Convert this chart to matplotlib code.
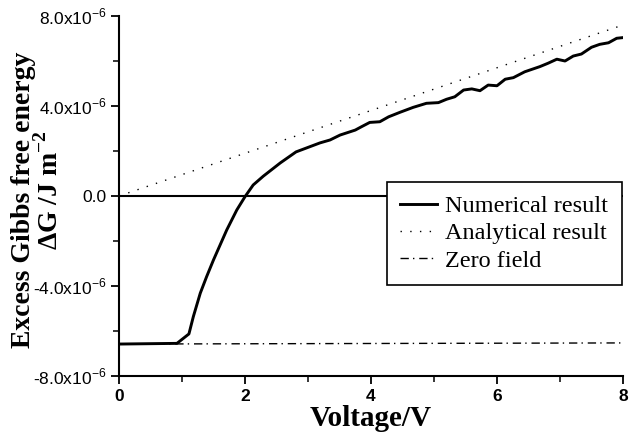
import matplotlib
matplotlib.use("Agg")
import matplotlib.pyplot as plt
from matplotlib.ticker import MultipleLocator, FixedLocator

plt.rcParams['mathtext.fontset'] = 'custom'
plt.rcParams['mathtext.rm'] = 'Liberation Sans'
plt.rcParams['mathtext.bf'] = 'Liberation Serif:bold'

# Voltage (V) and excess Gibbs free energy (units of 1e-6 J m^-2)
voltage_num = [0, 0.92, 1.11, 1.18, 1.29, 1.39, 1.50, 1.71, 1.87, 2.0, 2.13,
               2.29, 2.56, 2.81, 3.19, 3.35, 3.51, 3.75, 3.85, 3.98, 4.14,
               4.28, 4.46, 4.67, 4.88, 5.07, 5.20, 5.33, 5.47, 5.60, 5.73,
               5.86, 6.0, 6.13, 6.26, 6.44, 6.68, 6.81, 6.95, 7.08, 7.21,
               7.34, 7.50, 7.63, 7.77, 7.90, 8.0]
energy_num = [-6.58, -6.55, -6.13, -5.36, -4.32, -3.59, -2.84, -1.51, -0.62,
              -0.03, 0.49, 0.88, 1.47, 1.96, 2.36, 2.49, 2.71, 2.93, 3.08,
              3.27, 3.30, 3.52, 3.72, 3.94, 4.12, 4.15, 4.30, 4.41, 4.71,
              4.76, 4.68, 4.93, 4.90, 5.19, 5.26, 5.52, 5.75, 5.90, 6.08,
              6.0, 6.22, 6.31, 6.61, 6.74, 6.81, 7.01, 7.04]
voltage_ana = [0, 8]
energy_ana = [0, 7.6]
voltage_zero = [0, 8]
energy_zero = [-6.58, -6.53]

y_ticks = [-8, -4, 0, 4, 8]
y_tick_labels = [r"-8.0x10$^{-6}$", r"-4.0x10$^{-6}$", "0.0",
                 r"4.0x10$^{-6}$", r"8.0x10$^{-6}$"]
x_ticks = [0, 2, 4, 6, 8]

fig = plt.figure(figsize=(6.30, 4.44), dpi=100)
ax = fig.add_axes([119/630, 1 - 376/444, 504/630, 360/444])

scale = 1e-6
ax.axhline(0, color='black', lw=1.5, zorder=1)
ax.plot(voltage_num, [v * scale for v in energy_num], color='black', lw=2.1,
        label='Numerical result', zorder=3)
ax.plot(voltage_ana, [v * scale for v in energy_ana], color='black', lw=1.0,
        linestyle=(0, (1, 6)), label='Analytical result', zorder=2)
ax.plot(voltage_zero, [v * scale for v in energy_zero], color='black', lw=1.0,
        linestyle=(0, (6, 3, 1, 3.5)), label='Zero field', zorder=2)

ax.set_xlim(0, 8)
ax.set_ylim(-8e-6, 8e-6)

ax.spines['top'].set_visible(False)
ax.spines['right'].set_visible(False)
for s in ('left', 'bottom'):
    ax.spines[s].set_linewidth(1.5)

ax.xaxis.set_major_locator(FixedLocator(x_ticks))
ax.xaxis.set_minor_locator(MultipleLocator(1))
ax.yaxis.set_major_locator(FixedLocator([t * scale for t in y_ticks]))
ax.yaxis.set_minor_locator(MultipleLocator(2e-6))
ax.set_yticklabels(y_tick_labels, fontfamily='Liberation Sans', fontsize=12.5)
ax.set_xticklabels([str(t) for t in x_ticks], fontfamily='Liberation Sans',
                   fontsize=12.5, fontweight='bold')
ax.tick_params(which='major', direction='out', length=6, width=1.3, pad=3)
ax.tick_params(which='minor', direction='out', length=4, width=1.1)

ax.set_xlabel('Voltage/V', fontfamily='Liberation Serif', fontweight='bold',
              fontsize=21, labelpad=1)

fig.text(24/630, 1 - 200/444, 'Excess Gibbs free energy', rotation=90,
         ha='center', va='center', fontfamily='Liberation Serif',
         fontweight='bold', fontsize=20)
fig.text(49/630, 1 - 190/444, r'ΔG /J m$^{\mathbf{-2}}$', rotation=90,
         ha='center', va='center', fontfamily='Liberation Serif',
         fontweight='bold', fontsize=20)

leg = ax.legend(loc='upper left', bbox_to_anchor=(0.532, 0.539),
                borderaxespad=0, frameon=True, fancybox=False,
                framealpha=1, edgecolor='black', handlelength=1.5,
                handletextpad=0.35, labelspacing=0.21, borderpad=0.55,
                prop={'family': 'Liberation Serif', 'size': 17.5})
leg.get_frame().set_linewidth(1.2)

fig.savefig('out.png', dpi=100)
